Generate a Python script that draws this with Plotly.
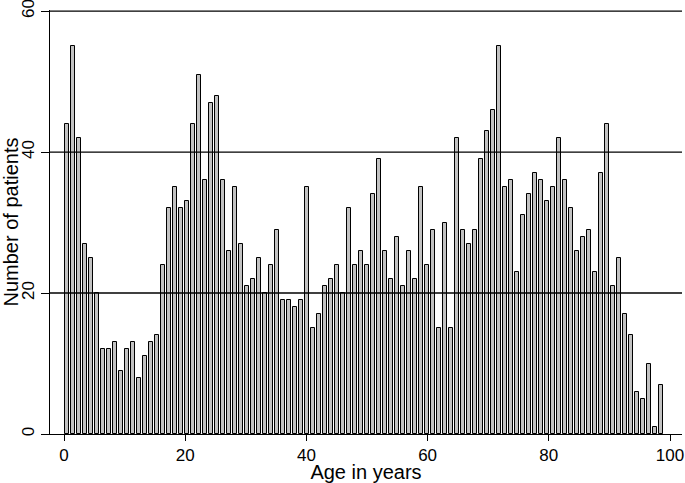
import plotly.graph_objects as go

# patients per single year of age (0..99)
ages = list(range(100))
patients = [44, 55, 42, 27, 25, 20, 12, 12, 13, 9,
            12, 13, 8, 11, 13, 14, 24, 32, 35, 32,
            33, 44, 51, 36, 47, 48, 36, 26, 35, 27,
            21, 22, 25, 20, 24, 29, 19, 19, 18, 19,
            35, 15, 17, 21, 22, 24, 20, 32, 24, 26,
            24, 34, 39, 26, 22, 28, 21, 26, 22, 35,
            24, 29, 15, 30, 15, 42, 29, 27, 29, 39,
            43, 46, 55, 35, 36, 23, 31, 34, 37, 36,
            33, 35, 42, 36, 32, 26, 28, 29, 23, 37,
            44, 21, 25, 17, 14, 6, 5, 10, 1, 7]

x_ticks = [0, 20, 40, 60, 80, 100]
y_ticks = [0, 20, 40, 60]

BIN_W = 0.99  # histogram bin width (100 bins over the age range)
bin_centers = [(a + 0.5) * BIN_W for a in ages]

FONT = "Liberation Sans, Helvetica, Arial, sans-serif"

fig = go.Figure()
fig.add_trace(go.Bar(
    x=bin_centers, y=patients,
    width=BIN_W * 0.68,
    marker=dict(color="#c2c2c2", line=dict(color="black", width=1)),
    showlegend=False,
))

# horizontal grid lines, drawn over the bars like the original
for t in y_ticks[1:]:
    fig.add_shape(type="line", xref="paper", yref="y", x0=0, x1=1, y0=t, y1=t,
                  line=dict(color="black", width=1.3), layer="above")

fig.update_layout(
    width=685, height=483,
    margin=dict(l=50, r=3, t=10, b=49),
    paper_bgcolor="white", plot_bgcolor="white",
    font=dict(family=FONT, size=17, color="black"),
    bargap=0,
)
fig.update_xaxes(
    range=[-2.31, 101.98], tickvals=x_ticks,
    showgrid=False, zeroline=False,
    showline=True, linecolor="black", linewidth=1,
    ticks="outside", ticklen=6, tickcolor="black", tickwidth=1,
    ticklabeloverflow="allow",
    title=dict(text="Age in years", standoff=4),
    automargin=False,
)
fig.update_yaxes(
    range=[0, 60.15], tickvals=y_ticks, tickangle=-90,
    showgrid=False, zeroline=False,
    showline=True, linecolor="black", linewidth=1,
    ticks="outside", ticklen=8, tickcolor="black", tickwidth=1,
    ticklabeloverflow="allow",
    title=dict(text="Number of patients", standoff=2),
    automargin=False,
)

# drop the default page margin so the figure sits at the window's corner
fig.write_html("out.html", config={"displayModeBar": False},
               post_script="document.body.style.margin='0';")
